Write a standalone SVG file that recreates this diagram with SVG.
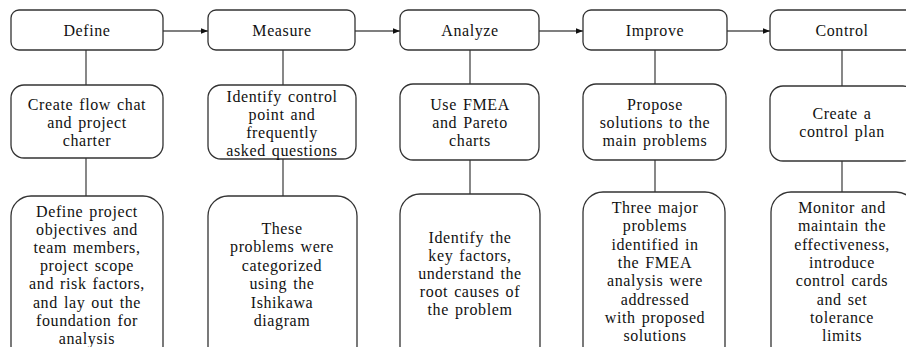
<svg xmlns="http://www.w3.org/2000/svg" width="906" height="347" viewBox="0 0 906 347">
<defs>
<style>
.box{fill:#fff;stroke:#333;stroke-width:1.3}
.ln{stroke:#555;stroke-width:1.4;fill:none}
.t text{font-family:'Liberation Serif','Times New Roman',serif;font-size:16px;fill:#111;text-anchor:middle;letter-spacing:0.6px;word-spacing:1.5px}
</style>
<marker id="ah" viewBox="0 0 10 10" refX="10" refY="5" markerWidth="7" markerHeight="7" orient="auto" markerUnits="userSpaceOnUse">
<path d="M0,1 L10,5 L0,9 z" fill="#111"/>
</marker>
</defs>
<rect width="906" height="347" fill="#fff"/>
<g id="connectors">
<line class="ln" x1="163" y1="31" x2="208" y2="31" marker-end="url(#ah)"/>
<line class="ln" x1="355" y1="31" x2="400" y2="31" marker-end="url(#ah)"/>
<line class="ln" x1="539" y1="31" x2="583" y2="31" marker-end="url(#ah)"/>
<line class="ln" x1="727" y1="31" x2="770" y2="31" marker-end="url(#ah)"/>
<line class="ln" x1="86" y1="50" x2="86" y2="85"/>
<line class="ln" x1="86" y1="158" x2="86" y2="196"/>
<line class="ln" x1="283" y1="50" x2="283" y2="85"/>
<line class="ln" x1="283" y1="159" x2="283" y2="196"/>
<line class="ln" x1="470" y1="50" x2="470" y2="84"/>
<line class="ln" x1="470" y1="160" x2="470" y2="194"/>
<line class="ln" x1="655" y1="50" x2="655" y2="84"/>
<line class="ln" x1="655" y1="160" x2="655" y2="192"/>
<line class="ln" x1="842" y1="50" x2="842" y2="86"/>
<line class="ln" x1="842" y1="161" x2="842" y2="192"/>
</g>
<g class="t">
<g id="define">
<rect class="box" x="11" y="10" width="152" height="40" rx="8"/>
<text x="87" y="36">Define</text>
</g>
<g id="measure">
<rect class="box" x="208" y="10" width="147" height="40" rx="8"/>
<text x="282" y="36">Measure</text>
</g>
<g id="analyze">
<rect class="box" x="400" y="10" width="139" height="40" rx="8"/>
<text x="470" y="36">Analyze</text>
</g>
<g id="improve">
<rect class="box" x="583" y="10" width="144" height="40" rx="8"/>
<text x="655" y="36">Improve</text>
</g>
<g id="control">
<rect class="box" x="770" y="10" width="146" height="40" rx="8"/>
<text x="842" y="36">Control</text>
</g>
<g id="define-step">
<rect class="box" x="11" y="85" width="152" height="73" rx="13"/>
<text x="87" y="110"><tspan x="87">Create flow chat</tspan><tspan x="87" dy="18">and project</tspan><tspan x="87" dy="18">charter</tspan></text>
</g>
<g id="measure-step">
<rect class="box" x="208" y="85" width="148" height="74" rx="13"/>
<text x="282" y="102"><tspan x="282">Identify control</tspan><tspan x="282" dy="18">point and</tspan><tspan x="282" dy="18">frequently</tspan><tspan x="282" dy="18">asked questions</tspan></text>
</g>
<g id="analyze-step">
<rect class="box" x="400" y="84" width="139" height="76" rx="13"/>
<text x="470" y="110"><tspan x="470">Use FMEA</tspan><tspan x="470" dy="18">and Pareto</tspan><tspan x="470" dy="18">charts</tspan></text>
</g>
<g id="improve-step">
<rect class="box" x="583" y="84" width="143" height="76" rx="13"/>
<text x="655" y="110"><tspan x="655">Propose</tspan><tspan x="655" dy="18">solutions to the</tspan><tspan x="655" dy="18">main problems</tspan></text>
</g>
<g id="control-step">
<rect class="box" x="770" y="86" width="146" height="75" rx="13"/>
<text x="842" y="119"><tspan x="842">Create a</tspan><tspan x="842" dy="18">control plan</tspan></text>
</g>
<g id="define-result">
<rect class="box" x="11" y="196" width="152" height="170" rx="20"/>
<text x="87" y="217"><tspan x="87">Define project</tspan><tspan x="87" dy="18.1">objectives and</tspan><tspan x="87" dy="18.1">team members,</tspan><tspan x="87" dy="18.1">project scope</tspan><tspan x="87" dy="18.1">and risk factors,</tspan><tspan x="87" dy="18.1">and lay out the</tspan><tspan x="87" dy="18.1">foundation for</tspan><tspan x="87" dy="18.1">analysis</tspan></text>
</g>
<g id="measure-result">
<rect class="box" x="208" y="196" width="149" height="170" rx="20"/>
<text x="282" y="234"><tspan x="282">These</tspan><tspan x="282" dy="18.4">problems were</tspan><tspan x="282" dy="18.4">categorized</tspan><tspan x="282" dy="18.4">using the</tspan><tspan x="282" dy="18.4">Ishikawa</tspan><tspan x="282" dy="18.4">diagram</tspan></text>
</g>
<g id="analyze-result">
<rect class="box" x="400" y="194" width="140" height="172" rx="20"/>
<text x="470" y="243"><tspan x="470">Identify the</tspan><tspan x="470" dy="18">key factors,</tspan><tspan x="470" dy="18">understand the</tspan><tspan x="470" dy="18">root causes of</tspan><tspan x="470" dy="18">the problem</tspan></text>
</g>
<g id="improve-result">
<rect class="box" x="583" y="192" width="142" height="174" rx="20"/>
<text x="655" y="213"><tspan x="655">Three major</tspan><tspan x="655" dy="18.3">problems</tspan><tspan x="655" dy="18.3">identified in</tspan><tspan x="655" dy="18.3">the FMEA</tspan><tspan x="655" dy="18.3">analysis were</tspan><tspan x="655" dy="18.3">addressed</tspan><tspan x="655" dy="18.3">with proposed</tspan><tspan x="655" dy="18.3">solutions</tspan></text>
</g>
<g id="control-result">
<rect class="box" x="771" y="192" width="145" height="174" rx="20"/>
<text x="842" y="213"><tspan x="842">Monitor and</tspan><tspan x="842" dy="18.3">maintain the</tspan><tspan x="842" dy="18.3">effectiveness,</tspan><tspan x="842" dy="18.3">introduce</tspan><tspan x="842" dy="18.3">control cards</tspan><tspan x="842" dy="18.3">and set</tspan><tspan x="842" dy="18.3">tolerance</tspan><tspan x="842" dy="18.3">limits</tspan></text>
</g>
</g>
</svg>
